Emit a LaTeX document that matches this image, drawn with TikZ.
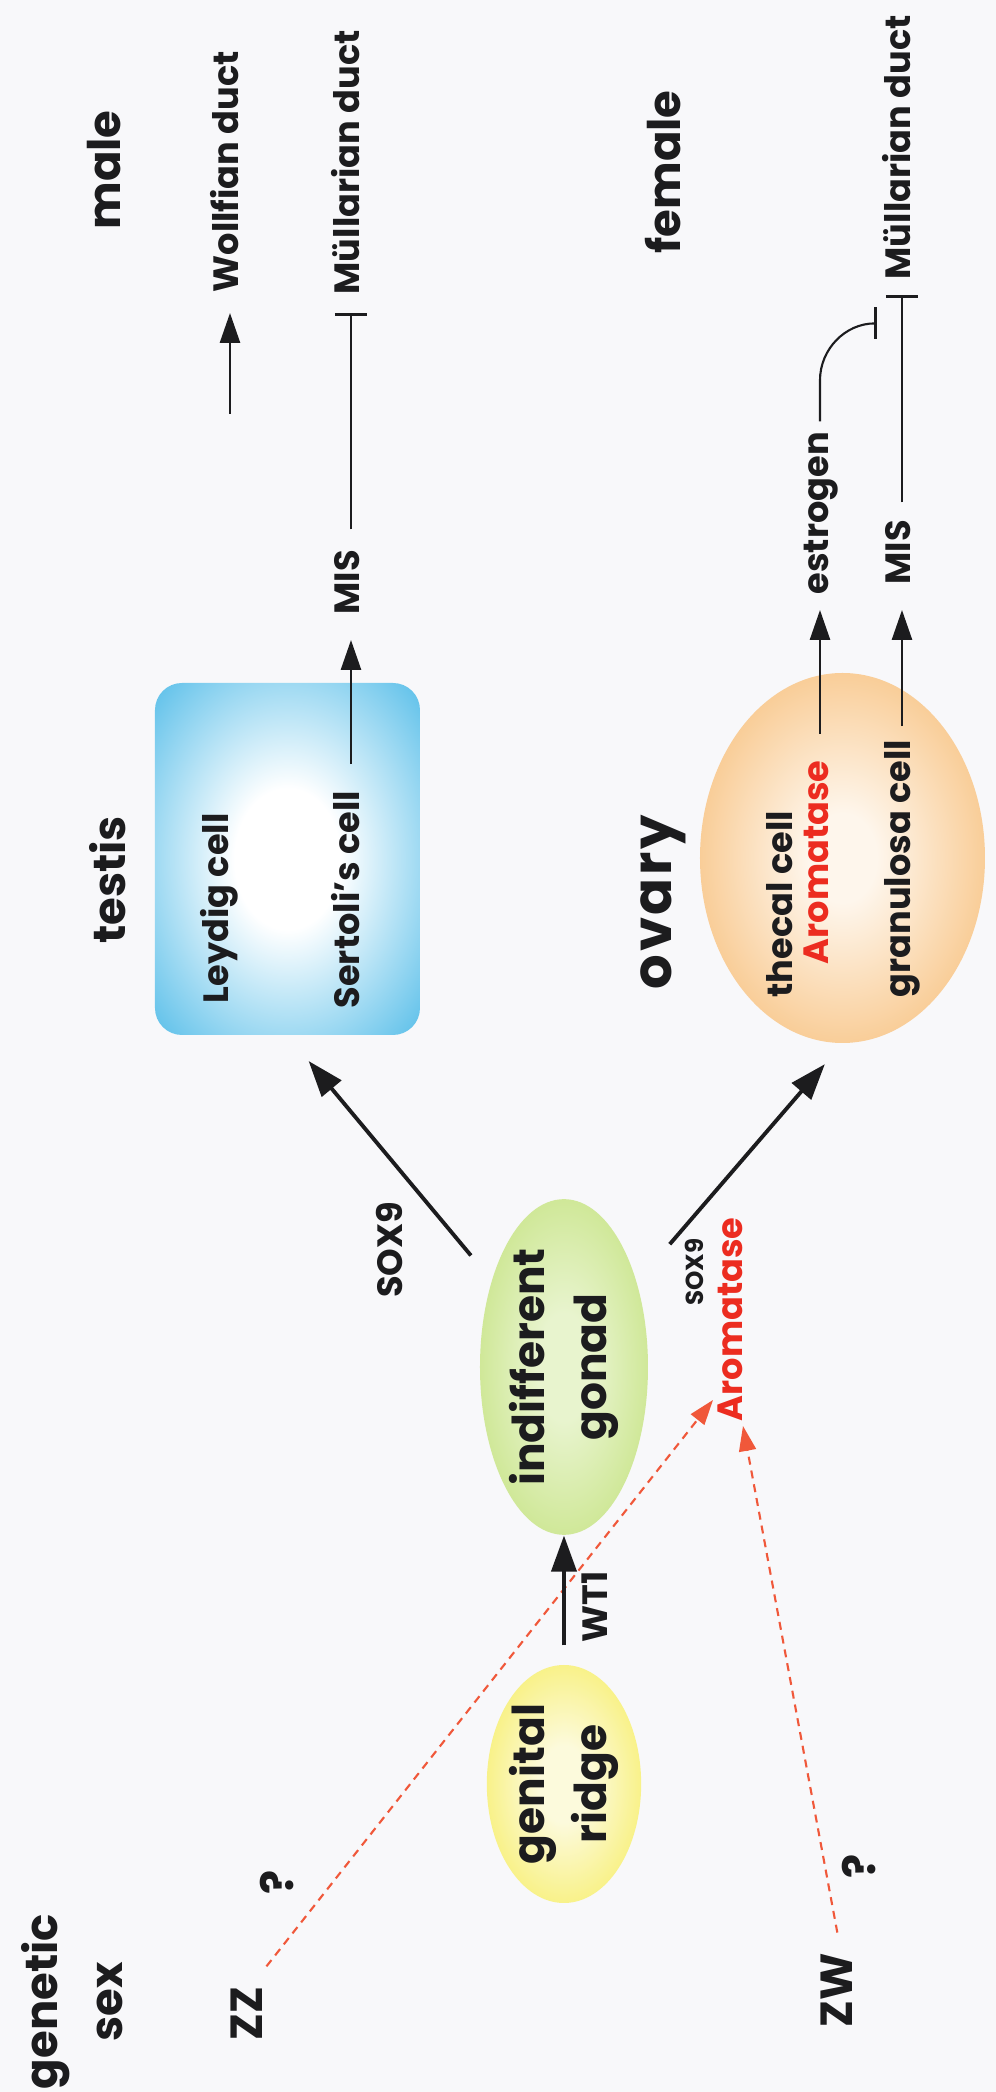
\documentclass[tikz,border=0pt]{standalone}
\usepackage{fontspec}
\setmainfont{Poppins}
\usetikzlibrary{arrows.meta,shapes.geometric}

\definecolor{bgpaper}{RGB}{248,248,250}
\definecolor{testisblue}{RGB}{36,170,226}
\definecolor{ovaryorange}{RGB}{246,182,104}
\definecolor{ovarylight}{RGB}{254,246,236}
\definecolor{gonadgreen}{RGB}{192,224,118}
\definecolor{gonadlight}{RGB}{232,244,206}
\definecolor{ridgeyellow}{RGB}{246,236,84}
\definecolor{ridgelight}{RGB}{252,250,220}
\definecolor{aromred}{RGB}{236,44,32}
\definecolor{dashred}{RGB}{240,88,58}
\definecolor{ink}{RGB}{28,28,30}

\pgfdeclareradialshading{testisshade}{\pgfpoint{0bp}{0bp}}{color(0bp)=(white); color(10bp)=(white); color(44bp)=(testisblue); color(50bp)=(testisblue)}
\pgfdeclareradialshading{ovaryshade}{\pgfpoint{0bp}{0bp}}{color(0bp)=(ovarylight); color(6bp)=(ovarylight); color(36bp)=(ovaryorange); color(50bp)=(ovaryorange)}
\pgfdeclareradialshading{gonadshade}{\pgfpoint{0bp}{0bp}}{color(0bp)=(gonadlight); color(8bp)=(gonadlight); color(36bp)=(gonadgreen); color(50bp)=(gonadgreen)}
\pgfdeclareradialshading{ridgeshade}{\pgfpoint{0bp}{0bp}}{color(0bp)=(ridgelight); color(8bp)=(ridgelight); color(36bp)=(ridgeyellow); color(50bp)=(ridgeyellow)}

\tikzset{
  lbl/.style={font=\fontsize{10}{12}\selectfont\bfseries, text=ink, inner sep=0pt, text height=7.2pt, text depth=2.2pt},
  head/.style={font=\fontsize{12.8}{15}\selectfont\bfseries, text=ink, inner sep=0pt, text height=9.2pt, text depth=2.8pt},
  small/.style={font=\fontsize{7}{8}\selectfont\bfseries, text=ink, inner sep=0pt, text height=5pt, text depth=1.5pt},
  blob/.style={ellipse, inner sep=0pt, align=center, font=\fontsize{12.5}{17.6}\selectfont\bfseries, text=ink},
  bigarrow/.style={-{Triangle[length=0.36cm,width=0.25cm]}, line width=1.1pt, draw=ink},
  thinarrow/.style={-{Triangle[length=0.3cm,width=0.2cm]}, line width=0.75pt, draw=ink},
  inhibit/.style={-{Bar[width=0.32cm,line width=0.9pt]}, line width=0.6pt, draw=ink},
  redarrow/.style={-{Triangle[length=0.25cm,width=0.17cm]}, dash pattern=on 0.08cm off 0.06cm, line width=0.6pt, draw=dashred},
}

\begin{document}
\begin{tikzpicture}
\begin{scope}[rotate=90, transform shape]
  \useasboundingbox (0,0) rectangle (20.92,9.96);
  \fill[bgpaper] (0,0) rectangle (20.92,9.96);

  % genetic sex
  \node[head] (genetic) at (0.905,9.50) {genetic};
  \node[head] (sex) at (0.905,8.85) {sex};
  \node[head] (zz) at (0.785,7.45) {ZZ};
  \node[head] (zzq) at (2.10,7.14) {?};
  \node[head] (zw) at (1.02,1.55) {ZW};
  \node[head] (zwq) at (2.26,1.32) {?};

  % gonads
  \node[blob, minimum width=2.38cm, minimum height=1.42cm, shade, shading=ridgeshade] (ridge) at (3.08,4.32) {genital\\ridge};
  \node[blob, minimum width=3.19cm, minimum height=1.68cm, shade, shading=gonadshade] (gonad) at (7.25,4.32) {indifferent\\gonad};
  \node[lbl] (wt1) at (4.85,3.97) {WT1};
  \node[lbl] (sox9a) at (8.42,6.02) {SOX9};
  \node[small] (sox9b) at (8.20,2.99) {SOX9};
  \node[lbl, text=aromred, anchor=west] (arom) at (6.70,2.62) {Aromatase};
  \coordinate (zztip) at (6.92,2.83);
  \coordinate (zwtip) at (6.66,2.53);

  % testis
  \node[rounded corners=0.27cm, minimum width=3.52cm, minimum height=2.65cm, shade, shading=testisshade] (testis) at (12.33,7.085) {};
  \node[head] (testislbl) at (12.12,8.82) {testis};
  \node[lbl, anchor=west] (leydig) at (10.88,7.76) {Leydig cell};
  \node[lbl, anchor=west] (sertoli) at (10.83,6.45) {Sertoli's cell};
  \node[lbl, anchor=west] (mism) at (14.77,6.45) {MIS};
  \node[lbl, anchor=west] (mullm) at (17.97,6.45) {Müllarian duct};
  \node[lbl, anchor=west] (wolff) at (17.99,7.66) {Wollfian duct};
  \coordinate (wolftail) at (16.78,7.66);
  \node[head] (male) at (19.22,8.87) {male};

  % ovary
  \node[ellipse, minimum width=3.70cm, minimum height=2.85cm, shade, shading=ovaryshade] (ovary) at (12.34,1.535) {};
  \node[head, font=\fontsize{15.5}{18}\selectfont\bfseries\addfontfeature{LetterSpace=5}] (ovarylbl) at (11.90,3.36) {ovary};
  \node[lbl, anchor=west] (thecal) at (10.94,2.12) {thecal cell};
  \node[lbl, anchor=west, text=aromred] (aromo) at (11.27,1.76) {Aromatase};
  \node[lbl, anchor=west] (granulosa) at (10.94,0.94) {granulosa cell};
  \node[lbl, anchor=west] (estrogen) at (14.97,1.76) {estrogen};
  \node[lbl, anchor=west] (misf) at (15.07,0.94) {MIS};
  \node[lbl, anchor=west] (mullf) at (18.12,0.94) {Müllarian duct};
  \node[head] (female) at (19.20,3.27) {female};

  % connectors
  \draw[redarrow, shorten <=0.25cm] (zz.east) -- (zztip);
  \draw[redarrow, shorten <=0.2cm] (zw.east) -- (zwtip);
  \draw[bigarrow, shorten <=0.19cm] (ridge) -- (gonad);
  \draw[bigarrow, shorten <=0.32cm, shorten >=0.33cm] (gonad) -- (testis.west);
  \draw[bigarrow, shorten <=0.5cm, shorten >=0.27cm] (gonad) -- (ovary.west);

  \draw[thinarrow, shorten <=0.26cm, shorten >=0.25cm] (sertoli) -- (mism);
  \draw[inhibit, shorten <=0.2cm, shorten >=0.18cm] (mism) -- (mullm);
  \draw[thinarrow, shorten >=0.2cm] (wolftail) -- (wolff);

  \draw[thinarrow, shorten <=0.26cm, shorten >=0.15cm] (aromo) -- (estrogen);
  \draw[thinarrow, shorten <=0.13cm, shorten >=0.25cm] (granulosa) -- (misf);
  \draw[inhibit, shorten <=0.17cm, shorten >=0.15cm] (misf) -- (mullf);
  \draw[inhibit] (estrogen.east) ++(0.1,0) -- ++(0.41,0) arc[start angle=90, end angle=0, radius=0.57];
\end{scope}
\end{tikzpicture}
\end{document}
